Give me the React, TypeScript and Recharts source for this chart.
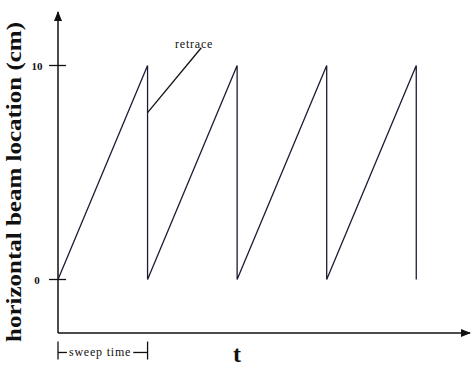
import React from "react";
import { LineChart, Line, XAxis, YAxis, ReferenceLine, ReferenceDot } from "recharts";

// sawtooth sweep: ramp up over one sweep time, then vertical retrace
const sweepTime = [0, 1, 1, 2, 2, 3, 3, 4, 4];
const beamCm = [0, 10, 0, 10, 0, 10, 0, 10, 0];
const yTicks = [0, 10];

const data = sweepTime.map((t, i) => ({ t, cm: beamCm[i] }));

const ink = "#111";
const serif = "'Liberation Serif', 'Times New Roman', serif";

const X_MAX = 4.6;
const Y_MIN = -2.5;
const Y_MAX = 12.5;

const plainLine = (p: any) => (
  <line x1={p.x1} y1={p.y1} x2={p.x2} y2={p.y2} stroke={ink} strokeWidth={1.3} />
);
const arrowLine = (p: any) => (
  <line x1={p.x1} y1={p.y1} x2={p.x2} y2={p.y2} stroke={ink} strokeWidth={1.5} markerEnd="url(#axisArrow)" />
);

const YTick = ({ x, y, payload }: any) => (
  <text x={x - 6} y={y} textAnchor="middle" dominantBaseline="central" fontSize={11}
    fontWeight="bold" fontFamily={serif} fill={ink}>
    {payload.value}
  </text>
);

const YTitle = ({ viewBox }: any) => {
  const cx = viewBox.x + 14;
  const cy = viewBox.y + viewBox.height / 2 + 9.5;
  return (
    <text x={cx} y={cy} transform={`rotate(-90 ${cx} ${cy})`} textAnchor="middle"
      dominantBaseline="central" fontSize={21} fontWeight="bold" fontFamily={serif}
      fill={ink} textLength={320} lengthAdjust="spacingAndGlyphs">
      horizontal beam location (cm)
    </text>
  );
};

const XTitle = ({ viewBox }: any) => (
  <text x={viewBox.x + 179} y={viewBox.y + 29} textAnchor="middle" fontSize={24}
    fontWeight="bold" fontFamily={serif} fill={ink}>
    t
  </text>
);

const noteLabel = (text: string) => ({ viewBox }: any) => (
  <text x={viewBox.x + viewBox.width / 2} y={viewBox.y + viewBox.height / 2}
    textAnchor="middle" dominantBaseline="central" fontSize={12} fontFamily={serif}
    letterSpacing={0.8} fill={ink}>
    {text}
  </text>
);

export default function App() {
  return (
    <div style={{ position: "absolute", left: 0, top: 0, width: 476, height: 368, background: "#fff" }}>
      <svg width={0} height={0} style={{ position: "absolute" }}>
        <defs>
          <marker id="axisArrow" markerUnits="userSpaceOnUse" markerWidth={10} markerHeight={8}
            refX={9} refY={4} orient="auto">
            <path d="M0,0 L10,4 L0,8 Z" fill={ink} />
          </marker>
        </defs>
      </svg>
      <LineChart width={476} height={368} data={data} margin={{ top: 12, right: 6, bottom: 0, left: 0 }}>
        <XAxis dataKey="t" type="number" domain={[0, X_MAX]} height={35} axisLine={false}
          tickLine={false} tick={false} label={<XTitle />} />
        <YAxis type="number" domain={[Y_MIN, Y_MAX]} width={58} ticks={yTicks} axisLine={false}
          tickLine={false} tickSize={0} tickMargin={15} tick={<YTick />} label={<YTitle />} />

        {/* axes with arrows */}
        <ReferenceLine segment={[{ x: 0, y: Y_MIN }, { x: X_MAX, y: Y_MIN }]} ifOverflow="visible" shape={arrowLine} />
        <ReferenceLine segment={[{ x: 0, y: Y_MIN }, { x: 0, y: Y_MAX }]} ifOverflow="visible" shape={arrowLine} />

        {/* tick marks crossing the y axis */}
        {yTicks.map((v) => (
          <ReferenceLine key={v} segment={[{ x: -0.1, y: v }, { x: 0.09, y: v }]} ifOverflow="visible" shape={plainLine} />
        ))}

        <Line type="linear" dataKey="cm" stroke="#1c1c34" strokeWidth={1.3} dot={false}
          activeDot={false} isAnimationActive={false} />

        {/* retrace callout */}
        <ReferenceLine segment={[{ x: 1, y: 7.8 }, { x: 1.6, y: 10.83 }]} ifOverflow="visible" shape={plainLine} />
        <ReferenceDot x={1.52} y={11.0} r={0} fill="none" stroke="none" ifOverflow="visible" label={noteLabel("retrace")} />

        {/* sweep time bracket */}
        <ReferenceLine segment={[{ x: 0, y: -2.9 }, { x: 0, y: -3.74 }]} ifOverflow="visible" shape={plainLine} />
        <ReferenceLine segment={[{ x: 1, y: -2.9 }, { x: 1, y: -3.74 }]} ifOverflow="visible" shape={plainLine} />
        <ReferenceLine segment={[{ x: 0, y: -3.41 }, { x: 0.1, y: -3.41 }]} ifOverflow="visible" shape={plainLine} />
        <ReferenceLine segment={[{ x: 0.84, y: -3.41 }, { x: 1, y: -3.41 }]} ifOverflow="visible" shape={plainLine} />
        <ReferenceDot x={0.47} y={-3.41} r={0} fill="none" stroke="none" ifOverflow="visible" label={noteLabel("sweep time")} />
      </LineChart>
    </div>
  );
}
